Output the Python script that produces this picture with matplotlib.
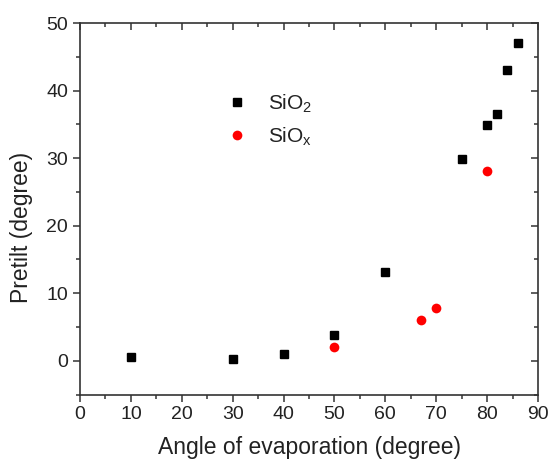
import matplotlib.pyplot as plt
from matplotlib.ticker import MultipleLocator

plt.rcParams["font.family"] = ["Liberation Sans", "DejaVu Sans"]
plt.rcParams["mathtext.fontset"] = "custom"
plt.rcParams["mathtext.rm"] = "Liberation Sans"
plt.rcParams["mathtext.it"] = "Liberation Sans"

sio2_angle = [10, 30, 40, 50, 60, 75, 80, 82, 84, 86]
sio2_pretilt = [0.6, 0.3, 1.0, 3.8, 13.2, 29.9, 34.9, 36.5, 43.0, 47.1]
siox_angle = [50, 67, 70, 80]
siox_pretilt = [2.0, 6.0, 7.8, 28.1]

FS = 14
TEXT = "#222222"

fig = plt.figure(figsize=(5.49, 4.62), dpi=100)
ax = fig.add_axes([0.1457, 0.146, 0.8343, 0.804])

ax.plot(sio2_angle, sio2_pretilt, linestyle="none", marker="s", markersize=6,
        color="black", label=r"SiO$_2$")
ax.plot(siox_angle, siox_pretilt, linestyle="none", marker="o", markersize=7,
        color="red", markeredgewidth=0, label=r"SiO$_x$")

ax.set_xlim(0, 90)
ax.set_ylim(-5, 50)
ax.xaxis.set_major_locator(MultipleLocator(10))
ax.xaxis.set_minor_locator(MultipleLocator(5))
ax.yaxis.set_major_locator(MultipleLocator(10))
ax.yaxis.set_minor_locator(MultipleLocator(5))

for spine in ax.spines.values():
    spine.set_color("#333333")
    spine.set_linewidth(1.2)

ax.tick_params(which="both", direction="out", color="#333333", width=1.1,
               labelsize=FS, labelcolor=TEXT)
ax.tick_params(which="major", length=5)
ax.tick_params(which="minor", length=3)

# mirrored ticks on the top and right, pointing inward
top = ax.secondary_xaxis("top")
top.xaxis.set_major_locator(MultipleLocator(10))
top.xaxis.set_minor_locator(MultipleLocator(5))
top.tick_params(which="both", direction="in", labeltop=False, color="#333333", width=1.1)
top.tick_params(which="major", length=5)
top.tick_params(which="minor", length=3)
right = ax.secondary_yaxis("right")
right.yaxis.set_major_locator(MultipleLocator(10))
right.yaxis.set_minor_locator(MultipleLocator(5))
right.tick_params(which="both", direction="in", labelright=False, color="#333333", width=1.1)
right.tick_params(which="major", length=5)
right.tick_params(which="minor", length=3)
for sec in (top, right):
    for spine in sec.spines.values():
        spine.set_visible(False)

ax.set_xlabel("Angle of evaporation (degree)", fontsize=16.5, color=TEXT, labelpad=9)
ax.set_ylabel("Pretilt (degree)", fontsize=16.5, color=TEXT)
ax.yaxis.set_label_coords(-0.103, 0.451)

ax.legend(loc="center left", bbox_to_anchor=(0.32, 0.739), frameon=False,
          fontsize=15, handlelength=1.0, handletextpad=1.0, labelspacing=0.5,
          borderpad=0, borderaxespad=0, labelcolor=TEXT)

fig.savefig("out.png", dpi=100)
